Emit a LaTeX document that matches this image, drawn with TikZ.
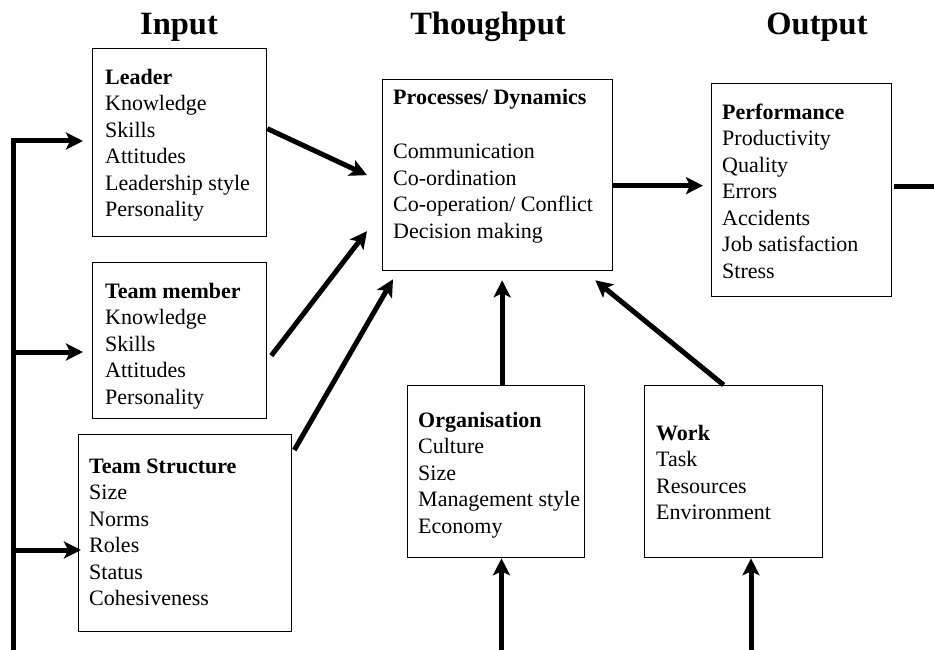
\documentclass[tikz,border=0pt]{standalone}
\usepackage{fontspec}
\setmainfont{Liberation Serif}
\usetikzlibrary{arrows.meta}
\newcommand\fl{\rule{0pt}{20pt}}
\begin{document}
\begin{tikzpicture}[x=1pt,y=-1pt,
  box/.style={draw=black,line width=1.3pt,inner sep=0pt,rectangle,anchor=north west},
  txt/.style={anchor=north west,inner sep=0pt,align=left,font=\fontsize{22}{26.5}\selectfont},
  head/.style={anchor=base,inner sep=0pt,font=\fontsize{32.5}{39}\selectfont\bfseries},
  conn/.style={line width=5pt,line join=miter},
  arr/.style={conn,-{Stealth[length=17pt,width=17pt,inset=4pt]}}]
\useasboundingbox (0,0) rectangle (934,650);
% headers
\node[head] (hin) at (179,35) {Input};
\node[head] (hthr) at (488,35) {Thoughput};
\node[head] (hout) at (817,35) {Output};
% boxes
\node[box,minimum width=174pt,minimum height=188pt] (leader) at (92,48) {};
\node[txt] (leadertxt) at (105,64) {\fl\textbf{Leader}\\Knowledge\\Skills\\Attitudes\\Leadership style\\Personality};
\node[box,minimum width=174pt,minimum height=156pt] (member) at (92,262) {};
\node[txt] (membertxt) at (105,278) {\fl\textbf{Team member}\\Knowledge\\Skills\\Attitudes\\Personality};
\node[box,minimum width=213pt,minimum height=197pt] (struct) at (78,434) {};
\node[txt] (structtxt) at (89,453) {\fl\textbf{Team Structure}\\Size\\Norms\\Roles\\Status\\Cohesiveness};
\node[box,minimum width=230pt,minimum height=191pt] (proc) at (382,79) {};
\node[txt] (proctxt) at (393,84) {\fl\textbf{Processes/ Dynamics}\\[28pt]Communication\\Co-ordination\\Co-operation/ Conflict\\Decision making};
\node[box,minimum width=180pt,minimum height=213pt] (perf) at (711,83) {};
\node[txt] (perftxt) at (722,99) {\fl\textbf{Performance}\\Productivity\\Quality\\Errors\\Accidents\\Job satisfaction\\Stress};
\node[box,minimum width=177pt,minimum height=172pt] (org) at (407,385) {};
\node[txt] (orgtxt) at (418,407) {\fl\textbf{Organisation}\\Culture\\Size\\Management style\\Economy};
\node[box,minimum width=178pt,minimum height=172pt] (work) at (644,385) {};
\node[txt] (worktxt) at (656,420) {\fl\textbf{Work}\\Task\\Resources\\Environment};
% input bus
\coordinate (busbot) at (13,655);
\coordinate (b1) at (13,141);
\coordinate (b2) at (13,352);
\coordinate (b3) at (13,550);
\draw[arr,shorten >=9pt] (busbot) -- (b1) -- (b1 -| leader.west);
\draw[arr,shorten >=9pt] (b2) -- (b2 -| member.west);
\draw[arr,shorten >=-3pt] (b3) -- (b3 -| struct.west);
% inputs to processes
\draw[arr] ([yshift=14pt]leader.east) -- ([xshift=-15pt]proc.west);
\draw[arr] ([xshift=4pt,yshift=-15pt]member.east) -- ([xshift=-15pt,yshift=-56pt]proc.west);
\draw[arr] ([xshift=2pt,yshift=-16pt]struct.north east) -- ([xshift=11pt,yshift=-8pt]proc.south west);
% processes to performance
\draw[arr] ([yshift=-10.5pt]proc.east) -- ([xshift=-8pt,yshift=4.5pt]perf.west);
\coordinate (offright) at (940,186);
\draw[conn] ([xshift=2pt]perf.east |- offright) -- (offright);
% organisation and work
\draw[arr] ([xshift=6pt]org.north) -- ([xshift=4.5pt,yshift=-9pt]proc.south);
\draw[arr] ([xshift=-10pt]work.north) -- ([xshift=-18pt,yshift=-9pt]proc.south east);
\coordinate (orgin) at (501.5,655);
\coordinate (workin) at (751,655);
\draw[arr] (orgin) -- (orgin |- org.south);
\draw[arr] (workin) -- (workin |- work.south);
\end{tikzpicture}
\end{document}
